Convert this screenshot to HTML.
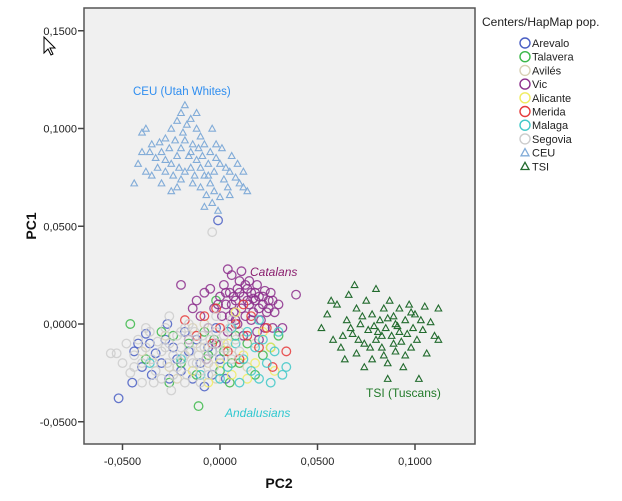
<!DOCTYPE html>
<html><head><meta charset="utf-8"><style>
body{margin:0;background:#fff;}
svg{display:block;font-family:"Liberation Sans",sans-serif;}
</style></head><body>
<svg id="chart" width="622" height="501"></svg>
<script>
// values in units of 0.001
const xTicks=[-50,0,50,100];
const xTickLabels=["-0,0500","0,0000","0,0500","0,1000"];
const yTicks=[150,100,50,0,-50];
const yTickLabels=["0,1500","0,1000","0,0500","0,0000","-0,0500"];
const groupNames=["Arevalo","Talavera","Avilés","Vic","Alicante","Merida","Malaga","Segovia","CEU","TSI"];
const groupColors=["#4a5fc4","#3cb84a","#d8d0b4","#8c2e8c","#f0ec60","#e63a3a","#40c8c8","#cccccc","#82acd8","#226b2e"];
const arevalo=[[-52,-38],[-45,-30],[-42,-10],[-40,-22],[-38,-5],[-35,-26],[-33,-15],[-30,-20],[-28,-8],[-26,-28],[-24,-12],[-22,-18],[-20,-24],[-18,-4],[-16,-14],[-14,-28],[-12,-8],[-10,-20],[-8,-32],[-6,-12],[-4,-26],[-2,-2],[0,-18],[3,-28],[-36,-10],[-1,53],[-27,0],[-44,-14]];
const talavera=[[-46,0],[-38,-18],[-30,-4],[-26,-30],[-20,-20],[-16,-10],[-12,-26],[-11,-42],[-8,-4],[-6,-16],[-3,-8],[0,-24],[2,-14],[5,-30],[8,-6],[10,-20],[14,-10],[18,-26],[22,-16],[26,-12],[-2,12],[-24,-6],[6,-20],[30,-6]];
const aviles=[[-40,-14],[-34,-20],[-28,-6],[-22,-28],[-18,-16],[-14,-2],[-10,-12],[-6,-20],[-2,-28],[2,-10],[6,-16],[10,-4],[14,-22],[-26,-22],[-8,0],[18,-10]];
const vic=[[-20,20],[-12,12],[-8,16],[-5,18],[-3,8],[0,14],[2,20],[3,10],[5,16],[6,25],[7,6],[8,12],[9,18],[10,22],[11,8],[12,14],[13,4],[14,18],[15,10],[16,16],[17,6],[18,12],[19,20],[20,14],[21,2],[22,10],[23,17],[24,6],[25,12],[26,16],[27,-2],[28,6],[30,10],[32,-2],[39,15],[4,28],[11,27],[-14,8],[-10,4],[-6,-2],[1,4],[4,-4],[9,0],[12,-6],[16,2],[19,-4],[23,-2],[14,12],[18,16],[20,8],[7,14],[3,16],[-1,10],[-16,-8],[-7,-18],[-2,-10],[22,14],[25,8],[15,22],[10,16],[8,2],[17,13],[13,20],[6,10],[5,4],[-4,-14],[20,-8],[27,12]];
const alicante=[[-14,-24],[-6,-30],[0,-20],[6,-26],[12,-16],[14,-28],[18,-20],[22,-4],[26,-12],[8,6],[28,-24],[4,-10]];
const merida=[[-18,2],[-12,-6],[-8,4],[-4,-10],[0,-2],[4,-14],[8,0],[10,-18],[14,-6],[16,4],[20,-12],[24,-2],[34,-14],[27,-22],[-2,8],[12,10]];
const malaga=[[-36,-20],[-20,-18],[-10,-26],[-4,-14],[0,-28],[4,-22],[8,-10],[10,-30],[12,-18],[14,-4],[16,-24],[18,-12],[20,-28],[22,-8],[24,-20],[26,-30],[28,-14],[32,-26],[34,-22],[20,2],[6,-2],[30,-4]];
const segovia=[[-56,-15],[-53,-15],[-50,-20],[-48,-10],[-46,-25],[-44,-16],[-42,-8],[-40,-30],[-40,-20],[-38,-12],[-36,-4],[-35,-18],[-33,-24],[-32,-9],[-30,-14],[-30,-28],[-28,-2],[-27,-20],[-26,-10],[-25,-34],[-24,-16],[-22,-6],[-22,-22],[-20,-12],[-19,-18],[-18,-2],[-17,-26],[-16,-8],[-15,-14],[-14,-20],[-13,-4],[-12,-10],[-11,-16],[-10,-24],[-9,-6],[-8,-12],[-7,-18],[-6,-2],[-5,-8],[-4,-14],[-3,-22],[-2,-4],[-1,-10],[0,-16],[2,-6],[3,-12],[5,-2],[6,-18],[8,-8],[10,-14],[-24,-26],[-34,-30],[-44,-22],[-18,-30],[-10,-30],[-28,-12],[-20,-4],[-12,-20],[-6,-26],[-38,-2],[-2,4],[6,2],[-16,0],[-26,4],[-4,47]];
const ceu=[[-40,98],[-38,100],[-35,92],[-42,82],[-38,78],[-33,85],[-30,88],[-28,95],[-25,100],[-22,104],[-20,108],[-18,112],[-15,105],[-12,100],[-10,96],[-8,92],[-5,88],[-2,85],[0,82],[3,80],[5,78],[8,75],[10,72],[12,70],[14,68],[-30,72],[-28,78],[-25,82],[-22,86],[-20,90],[-18,94],[-15,88],[-12,84],[-10,80],[-8,76],[-5,72],[-3,68],[0,65],[-20,74],[-18,78],[-15,80],[-13,76],[-10,70],[-7,66],[-4,62],[-25,68],[-22,70],[-28,84],[-32,80],[-35,76],[-16,86],[-14,92],[-11,90],[-6,82],[-3,78],[2,74],[6,86],[9,82],[4,70],[-1,58],[-8,60],[-19,98],[-23,94],[-26,90],[-12,108],[-17,102],[-9,86],[1,90],[5,66],[12,78],[-36,88],[-31,93],[-24,76],[-21,80],[-14,72],[-6,76],[-2,92],[-4,100],[-44,72],[-40,88]];
const tsi=[[52,-2],[55,5],[58,-8],[60,10],[62,-12],[65,2],[66,15],[68,-5],[70,8],[70,-15],[72,0],[74,-10],[75,12],[76,-3],[78,5],[78,-18],[80,-8],[80,18],[82,2],[83,-12],[84,8],[85,-2],[86,-20],[87,12],[88,-6],[89,4],[90,-14],[91,-1],[92,8],[93,-9],[94,-22],[95,2],[96,-5],[97,10],[98,-12],[99,-2],[100,5],[101,-8],[102,-28],[104,-3],[105,9],[106,-15],[108,1],[110,-6],[112,8],[112,-8],[63,-6],[67,-2],[71,-8],[73,4],[77,-12],[79,-1],[81,-4],[84,-16],[86,3],[89,-10],[92,-4],[95,-16],[64,-18],[57,12],[69,20],[86,-28],[74,-22],[83,-6],[90,0],[98,6],[103,2]];
const groups=[arevalo,talavera,aviles,vic,alicante,merida,malaga,segovia,ceu,tsi];

const NS="http://www.w3.org/2000/svg";
const svg=document.getElementById('chart');
const L=84,T=8,R=475,B=444;
function sx(v){return 220+v*1.95;}
function sy(v){return 324-v*1.955;}
function mk(tag,attrs,parent){const e=document.createElementNS(NS,tag);for(const k in attrs)e.setAttribute(k,attrs[k]);(parent||svg).appendChild(e);return e;}

const bg=mk('rect',{x:L,y:T,width:R-L,height:B-T,fill:'#f0f0f0',stroke:'#555','stroke-width':1.5});



xTicks.forEach((t,i)=>{
  const l=mk('line',{x1:sx(t),x2:sx(t),y1:B,y2:B+6,stroke:'#444','stroke-width':1.5});
  
  
  const tx=mk('text',{x:sx(t),y:B+21,'text-anchor':'middle','font-size':11,fill:'#222'});
  tx.textContent=xTickLabels[i];
  
  
});
yTicks.forEach((t,i)=>{
  const l=mk('line',{x1:L-6,x2:L,y1:sy(t),y2:sy(t),stroke:'#444','stroke-width':1.5});
  
  
  const tx=mk('text',{x:L-7,y:sy(t)+4,'text-anchor':'end','font-size':11,fill:'#222'});
  tx.textContent=yTickLabels[i];
  
  
});

function tri(cx,cy,s){return `${cx},${cy-s} ${cx-s},${cy+s*0.8} ${cx+s},${cy+s*0.8}`;}
const g=mk('g',{});


groups.forEach((pts,gi)=>{
  pts.forEach(p=>{
    let e;
    if(gi>=8){
      e=mk('polygon',{points:tri(sx(p[0]),sy(p[1]),3.3),fill:'none',stroke:groupColors[gi],'stroke-width':1.1},g);
    }else{
      e=mk('circle',{cx:sx(p[0]),cy:sy(p[1]),r:4.3,fill:'none',stroke:groupColors[gi],'stroke-width':1.3,'stroke-opacity':0.85},g);
    }
    
    
  });
});

// legend
groupNames.forEach((n,i)=>{
  const y=43+i*13.7;
  let m;
  if(i>=8) m=mk('polygon',{points:tri(525,y,4),fill:'none',stroke:groupColors[i],'stroke-width':1.3});
  else m=mk('circle',{cx:525,cy:y,r:5,fill:'none',stroke:groupColors[i],'stroke-width':1.4});
  
  
  const t=mk('text',{x:532,y:y+4,'font-size':11,fill:'#222'});
  t.textContent=n;
  
  
});
</script>
<svg width="0" height="0" style="position:absolute"></svg>
<script>
const s2=document.getElementById('chart');
s2.insertAdjacentHTML('beforeend',`
<text x="482" y="26" font-size="12" fill="#222">Centers/HapMap pop.</text>
<text x="133" y="95" font-size="11.5" fill="#2f8ef0">CEU (Utah Whites)</text>
<text x="250" y="276" font-size="12" font-style="italic" fill="#8a1f6e">Catalans</text>
<text x="225" y="417" font-size="12" font-style="italic" fill="#30c8d0">Andalusians</text>
<text x="366" y="397" font-size="12" fill="#227a2a">TSI (Tuscans)</text>
<text x="279" y="488" font-size="14" font-weight="bold" text-anchor="middle" fill="#111">PC2</text>
<text x="36" y="226" font-size="14" font-weight="bold" text-anchor="middle" fill="#111" transform="rotate(-90 36 226)">PC1</text>
<polygon points="44,37 44,53 48,49 51,55 53,54 50,48 55,48" fill="#fff" stroke="#000" stroke-width="1"/>
`);
</script>
</body></html>
